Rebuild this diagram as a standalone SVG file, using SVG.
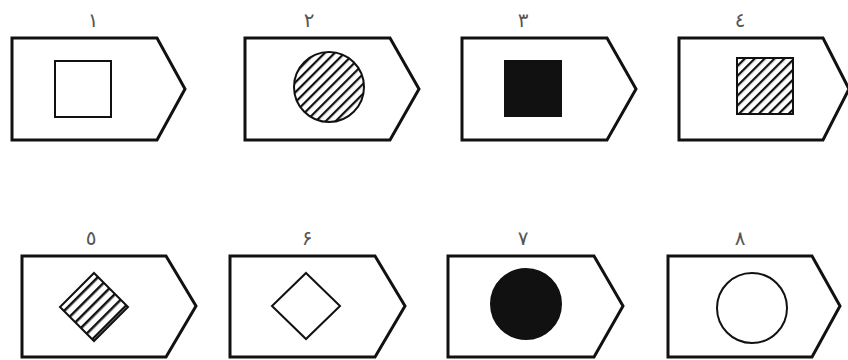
<svg xmlns="http://www.w3.org/2000/svg" width="848" height="360" viewBox="0 0 848 360">
  <style>
    .card { fill: #fff; stroke: #111; stroke-width: 3; stroke-linejoin: miter; }
    .inner { stroke: #111; stroke-width: 2; }
    .lbl { font-family: "DejaVu Sans", "Noto Sans", sans-serif; font-size: 20px; fill: #555; text-anchor: middle; }
  </style>
  <defs>
    <pattern id="hatch" patternUnits="userSpaceOnUse" width="7" height="7" patternTransform="rotate(45)">
      <rect width="7" height="7" fill="#fff"/>
      <line x1="0" y1="0" x2="0" y2="7" stroke="#111" stroke-width="4.5"/>
    </pattern>
    <pattern id="hatch5" patternUnits="userSpaceOnUse" width="8" height="8" patternTransform="rotate(45)">
      <rect width="8" height="8" fill="#fff"/>
      <line x1="0" y1="0" x2="0" y2="8" stroke="#111" stroke-width="5"/>
    </pattern>
  </defs>
  <rect width="848" height="360" fill="#fff"/>

  <g id="n1">
    <path class="card" d="M12,38 H157 L185,89 L157,140 H12 Z"/>
    <rect class="inner" x="55" y="61" width="56" height="56" fill="#fff"/>
    <text class="lbl" x="93" y="27">١</text>
  </g>
  <g id="n2">
    <path class="card" d="M245,38 H390 L419,89 L390,140 H245 Z"/>
    <circle class="inner" cx="329" cy="87" r="35" fill="url(#hatch)"/>
    <text class="lbl" x="309" y="27">٢</text>
  </g>
  <g id="n3">
    <path class="card" d="M462,38 H607 L636,89 L607,140 H462 Z"/>
    <rect class="inner" x="505" y="61" width="56" height="55" fill="#111"/>
    <text class="lbl" x="523" y="27">٣</text>
  </g>
  <g id="n4">
    <path class="card" d="M679,38 H823 L849,89 L823,140 H679 Z"/>
    <rect class="inner" x="737" y="58" width="56" height="56" fill="url(#hatch)"/>
    <text class="lbl" x="740" y="27">٤</text>
  </g>

  <g id="n5">
    <path class="card" d="M22,256 H166 L196,306 L166,357 H22 Z"/>
    <path class="inner" d="M94,273 L128,307 L94,341 L60,307 Z" fill="url(#hatch5)"/>
    <text class="lbl" x="91" y="245">٥</text>
  </g>
  <g id="n6">
    <path class="card" d="M230,256 H375 L405,306 L375,357 H230 Z"/>
    <path class="inner" d="M306,273 L340,306 L306,339 L272,306 Z" fill="#fff"/>
    <text class="lbl" x="307" y="245">۶</text>
  </g>
  <g id="n7">
    <path class="card" d="M448,256 H594 L623,306 L594,357 H448 Z"/>
    <circle class="inner" cx="526" cy="304" r="35" fill="#111"/>
    <text class="lbl" x="523" y="245">٧</text>
  </g>
  <g id="n8">
    <path class="card" d="M668,256 H812 L840,306 L812,357 H668 Z"/>
    <circle class="inner" cx="752" cy="308" r="35" fill="#fff"/>
    <text class="lbl" x="740" y="245">٨</text>
  </g>

  <g id="connectors"></g>
</svg>
